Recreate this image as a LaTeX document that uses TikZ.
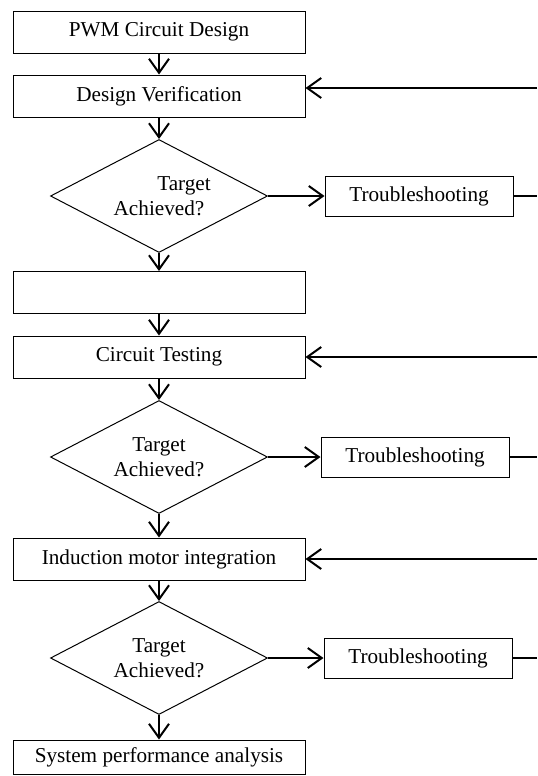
\documentclass[tikz,border=0pt]{standalone}
\usepackage{fontspec}
\setmainfont{Liberation Serif}
\usetikzlibrary{shapes.geometric,arrows.meta}

\begin{document}
\begin{tikzpicture}[x=0.5pt,y=-0.5pt,
	font=\fontsize{10.6}{12.5}\selectfont,
	stepbox/.style={draw, line width=0.5pt, minimum width=146pt, minimum height=21pt, inner sep=0pt},
	fixbox/.style={draw, line width=0.5pt, minimum width=94pt, minimum height=20pt, inner sep=0pt},
	check/.style={draw, diamond, aspect=1.9, line width=0.5pt, minimum width=108.5pt, minimum height=56.5pt, inner sep=0pt, align=center},
	flow/.style={line width=1pt, -{Straight Barb[length=7pt,width=10pt,line width=1pt]}},
	back/.style={line width=1pt}]
	\useasboundingbox (0,0) rectangle (537,776);
	%%%nodes
	%design stage
	\node[stepbox] at (159,32) (design){PWM Circuit Design};
	\node[stepbox] at (159,96) (verify){Design Verification};
	\node[check] at (159,196) (check1){\hspace*{25pt}Target\\Achieved?};
	\node[fixbox] at (419,196) (fix1){Troubleshooting};
	%hardware stage
	\node[stepbox] at (159,292.5) (blank){};
	\node[stepbox] at (159,357) (testing){Circuit Testing};
	\node[check] at (159,457) (check2){Target\\Achieved?};
	\node[fixbox] at (415,457) (fix2){Troubleshooting};
	%motor stage
	\node[stepbox] at (159,559) (motor){Induction motor integration};
	\node[check] at (159,658) (check3){Target\\Achieved?};
	\node[fixbox] at (418,658) (fix3){Troubleshooting};
	\node[stepbox, minimum height=17pt] at (159,757) (analysis){System performance analysis};
	%return points on the right
	\coordinate (back1) at (537,88);
	\coordinate (back2) at (537,357);
	\coordinate (back3) at (537,559);
	\coordinate (out1) at (537,196);
	\coordinate (out2) at (537,457);
	\coordinate (out3) at (537,658);
	%%%links
	%main column
	\draw[flow] (design) -- (verify);
	\draw[flow] (verify) -- (check1);
	\draw[flow] (check1) -- (blank);
	\draw[flow] (blank) -- (testing);
	\draw[flow] (testing) -- (check2);
	\draw[flow] (check2) -- (motor);
	\draw[flow] (motor) -- (check3);
	\draw[flow] (check3) -- (analysis);
	%to troubleshooting
	\draw[flow] (check1) -- (fix1);
	\draw[flow] (check2) -- (fix2);
	\draw[flow] (check3) -- (fix3);
	%loop back
	\draw[back] (fix1) -- (out1);
	\draw[back] (fix2) -- (out2);
	\draw[back] (fix3) -- (out3);
	\draw[flow] (back1) -- (back1 -| verify.east);
	\draw[flow] (back2) -- (back2 -| testing.east);
	\draw[flow] (back3) -- (back3 -| motor.east);
\end{tikzpicture}
\end{document}
